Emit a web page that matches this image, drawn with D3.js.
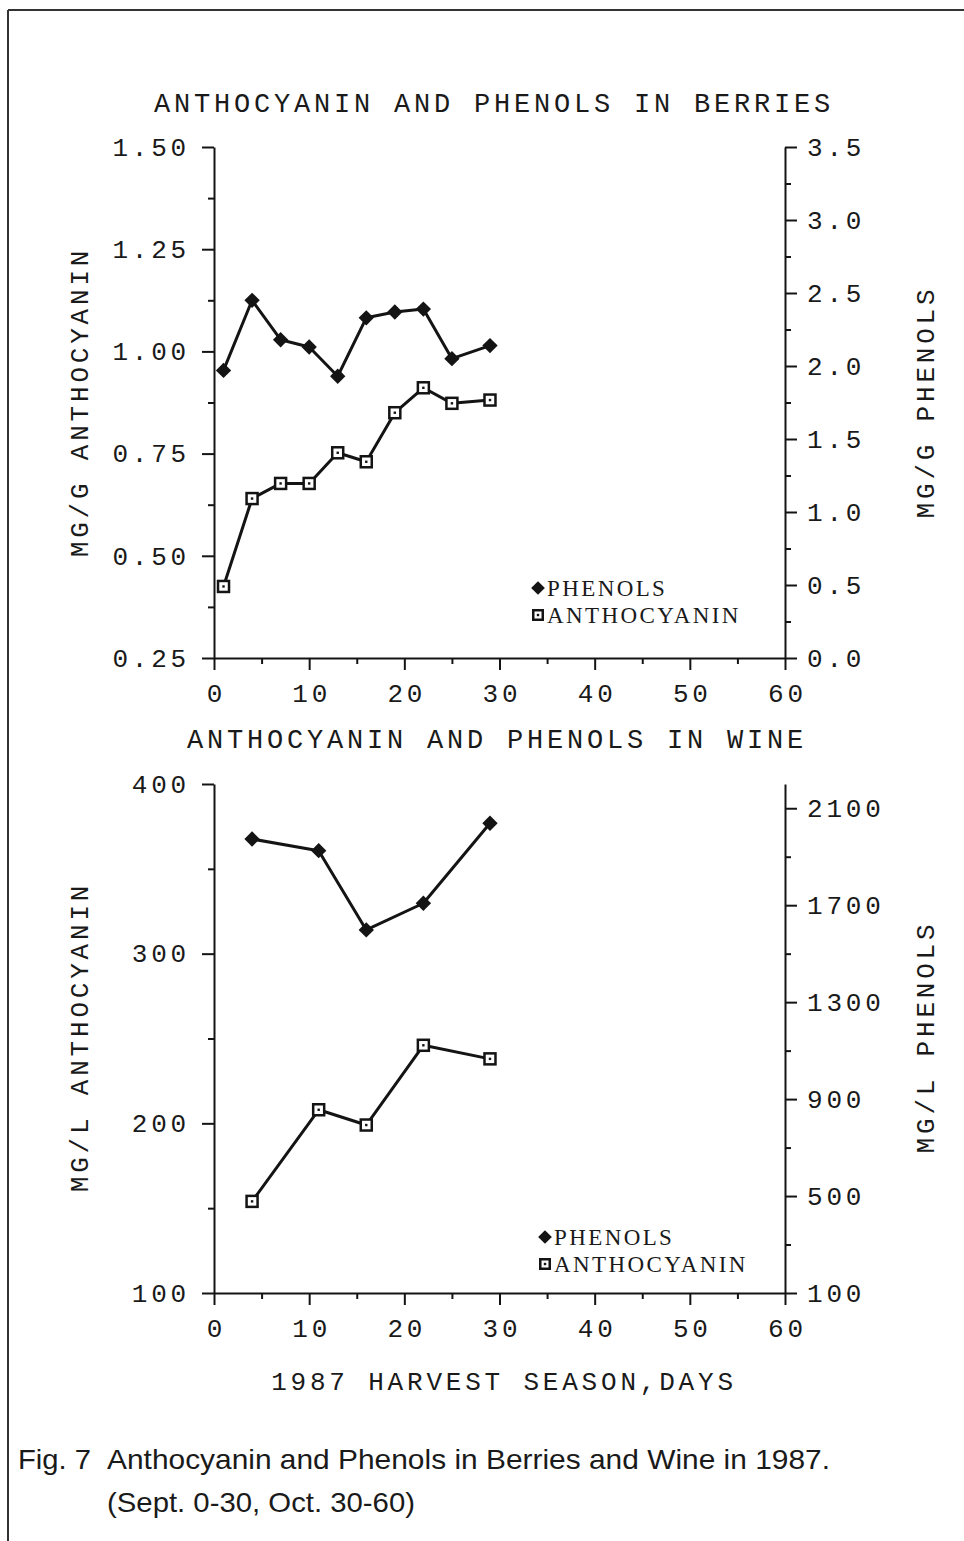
<!DOCTYPE html>
<html>
<head>
<meta charset="utf-8">
<script src="https://cdn.jsdelivr.net/npm/d3@7"></script>
<style>
  body { margin: 0; background: #fff; }
  svg { display: block; }
  .mono { font-family: "Liberation Mono", "DejaVu Sans Mono", monospace; fill: #1a1a1a; }
  .serif { font-family: "Liberation Serif", "DejaVu Serif", serif; fill: #1a1a1a; }
  .sans { font-family: "Liberation Sans", Arial, sans-serif; fill: #1a1a1a; }
</style>
</head>
<body>
<svg id="fig" width="964" height="1541"></svg>
<script>
// berries (top panel)
var berryDays = [1, 4, 7, 10, 13, 16, 19, 22, 25, 29];
var berryPhenols = [1.97, 2.45, 2.18, 2.13, 1.93, 2.33, 2.37, 2.39, 2.05, 2.14];
var berryAntho = [0.425, 0.64, 0.677, 0.677, 0.752, 0.73, 0.85, 0.911, 0.873, 0.881];

// wine (bottom panel)
var wineDays = [4, 11, 16, 22, 29];
var winePhenols = [1973, 1925, 1598, 1708, 2038];
var wineAntho = [154, 208, 199, 246, 238];

// ticks
var dayTicks = [0, 10, 20, 30, 40, 50, 60];
var dayMinor = [5, 15, 25, 35, 45, 55];
var berryAnthoTicks = [0.25, 0.5, 0.75, 1.0, 1.25, 1.5];
var berryAnthoMinor = [0.375, 0.625, 0.875, 1.125, 1.375];
var berryPhenolTicks = [0, 0.5, 1, 1.5, 2, 2.5, 3, 3.5];
var berryPhenolMinor = [0.25, 0.75, 1.25, 1.75, 2.25, 2.75, 3.25];
var wineAnthoTicks = [100, 200, 300, 400];
var wineAnthoMinor = [150, 250, 350];
var winePhenolTicks = [100, 500, 900, 1300, 1700, 2100];
var winePhenolMinor = [300, 700, 1100, 1500, 1900];

var svg = d3.select('#fig');
var ink = '#141414';
var FS = 26, LS = '3.8px';

// page frame (scan edge)
svg.append('line').attr('x1', 8).attr('y1', 10).attr('x2', 964).attr('y2', 10)
  .attr('stroke', '#333').attr('stroke-width', 2);
svg.append('line').attr('x1', 8).attr('y1', 10).attr('x2', 8).attr('y2', 1541)
  .attr('stroke', '#333').attr('stroke-width', 2);

function styleAxis(g) {
  g.selectAll('path, line').attr('stroke', ink).attr('stroke-width', 2);
  g.selectAll('text')
    .attr('class', 'mono')
    .attr('font-size', FS)
    .style('letter-spacing', LS)
    .attr('fill', ink);
  g.attr('font-family', null).attr('font-size', null);
}

function panel(cfg) {
  var x = d3.scaleLinear().domain([0, 60]).range([214, 785]);
  var yL = d3.scaleLinear().domain(cfg.leftDomain).range([cfg.bottom, cfg.top]);
  var yR = d3.scaleLinear().domain(cfg.rightDomain).range([cfg.bottom, cfg.top]);

  var g = svg.append('g');

  // minor ticks
  g.append('g').attr('transform', 'translate(0,' + cfg.bottom + ')')
    .call(d3.axisBottom(x).tickValues(dayMinor).tickSize(6).tickFormat(''))
    .call(function(a) { a.select('.domain').remove(); styleAxis(a); });
  g.append('g').attr('transform', 'translate(214,0)')
    .call(d3.axisLeft(yL).tickValues(cfg.leftMinor).tickSize(6).tickFormat(''))
    .call(function(a) { a.select('.domain').remove(); styleAxis(a); });
  g.append('g').attr('transform', 'translate(785,0)')
    .call(d3.axisRight(yR).tickValues(cfg.rightMinor).tickSize(6).tickFormat(''))
    .call(function(a) { a.select('.domain').remove(); styleAxis(a); });

  // major axes
  var xa = g.append('g').attr('transform', 'translate(0,' + cfg.bottom + ')')
    .call(d3.axisBottom(x).tickValues(dayTicks).tickSize(12).tickSizeOuter(0).tickPadding(14));
  styleAxis(xa);
  xa.selectAll('text').attr('dx', '2px');

  var la = g.append('g').attr('transform', 'translate(214,0)')
    .call(d3.axisLeft(yL).tickValues(cfg.leftTicks).tickSize(12).tickSizeOuter(0)
      .tickPadding(12).tickFormat(cfg.leftFormat));
  styleAxis(la);

  var ra = g.append('g').attr('transform', 'translate(785,0)')
    .call(d3.axisRight(yR).tickValues(cfg.rightTicks).tickSize(12).tickSizeOuter(0)
      .tickPadding(10).tickFormat(cfg.rightFormat));
  styleAxis(ra);

  // axis titles
  g.append('text').attr('class', 'mono')
    .attr('transform', 'translate(88,' + cfg.labelY + ') rotate(-90)')
    .attr('text-anchor', 'middle').attr('font-size', FS).style('letter-spacing', LS)
    .text(cfg.leftLabel);
  g.append('text').attr('class', 'mono')
    .attr('transform', 'translate(934,' + cfg.labelY + ') rotate(-90)')
    .attr('text-anchor', 'middle').attr('font-size', FS).style('letter-spacing', LS)
    .text(cfg.rightLabel);

  // series
  var line = d3.line();
  var phen = cfg.days.map(function(d, i) { return [x(d), yR(cfg.phenols[i])]; });
  var anth = cfg.days.map(function(d, i) { return [x(d), yL(cfg.antho[i])]; });

  g.append('path').attr('d', line(phen)).attr('fill', 'none')
    .attr('stroke', ink).attr('stroke-width', 3).attr('stroke-linejoin', 'round');
  g.append('path').attr('d', line(anth)).attr('fill', 'none')
    .attr('stroke', ink).attr('stroke-width', 3).attr('stroke-linejoin', 'round');

  var diamond = d3.symbol().type(d3.symbolDiamond2).size(150);
  g.selectAll('.ph').data(phen).enter().append('path')
    .attr('class', 'ph')
    .attr('transform', function(p) { return 'translate(' + p[0] + ',' + p[1] + ')'; })
    .attr('d', diamond).attr('fill', ink);

  drawSquares(g, anth, 11);

  // legend
  var lg = g.append('g');
  lg.append('path').attr('transform', 'translate(' + cfg.legX + ',' + cfg.legY + ')')
    .attr('d', d3.symbol().type(d3.symbolDiamond2).size(120)).attr('fill', ink);
  drawSquares(lg, [[cfg.legX, cfg.legY + 27]], 9.5);
  lg.append('text').attr('class', 'serif').attr('x', cfg.legX + 9).attr('y', cfg.legY + 8)
    .attr('font-size', 23).style('letter-spacing', '2.4px').text('PHENOLS');
  lg.append('text').attr('class', 'serif').attr('x', cfg.legX + 9).attr('y', cfg.legY + 35)
    .attr('font-size', 23).style('letter-spacing', '2.4px').text('ANTHOCYANIN');
}

function drawSquares(g, pts, s) {
  var sq = g.selectAll(null).data(pts).enter().append('g')
    .attr('transform', function(p) { return 'translate(' + p[0] + ',' + p[1] + ')'; });
  sq.append('rect').attr('x', -s / 2).attr('y', -s / 2).attr('width', s).attr('height', s)
    .attr('fill', '#fff').attr('stroke', ink).attr('stroke-width', 2.5);
  sq.append('rect').attr('x', -1.2).attr('y', -1.2).attr('width', 2.4).attr('height', 2.4)
    .attr('fill', ink);
}

// titles
svg.append('text').attr('class', 'mono').attr('x', 494).attr('y', 112)
  .attr('text-anchor', 'middle').attr('font-size', 27).style('letter-spacing', '3.8px')
  .text('ANTHOCYANIN AND PHENOLS IN BERRIES');

panel({
  top: 147, bottom: 658,
  leftDomain: [0.25, 1.5], rightDomain: [0, 3.5],
  leftTicks: berryAnthoTicks, leftMinor: berryAnthoMinor,
  rightTicks: berryPhenolTicks, rightMinor: berryPhenolMinor,
  leftFormat: d3.format('.2f'), rightFormat: d3.format('.1f'),
  leftLabel: 'MG/G ANTHOCYANIN', rightLabel: 'MG/G PHENOLS', labelY: 402,
  days: berryDays, phenols: berryPhenols, antho: berryAntho,
  legX: 538, legY: 588
});

svg.append('text').attr('class', 'mono').attr('x', 497).attr('y', 748)
  .attr('text-anchor', 'middle').attr('font-size', 27).style('letter-spacing', '3.8px')
  .text('ANTHOCYANIN AND PHENOLS IN WINE');

panel({
  top: 784, bottom: 1293,
  leftDomain: [100, 400], rightDomain: [100, 2200],
  leftTicks: wineAnthoTicks, leftMinor: wineAnthoMinor,
  rightTicks: winePhenolTicks, rightMinor: winePhenolMinor,
  leftFormat: d3.format('d'), rightFormat: d3.format('d'),
  leftLabel: 'MG/L ANTHOCYANIN', rightLabel: 'MG/L PHENOLS', labelY: 1037,
  days: wineDays, phenols: winePhenols, antho: wineAntho,
  legX: 545, legY: 1237
});

svg.append('text').attr('class', 'mono').attr('x', 504).attr('y', 1390)
  .attr('text-anchor', 'middle').attr('font-size', FS).style('letter-spacing', LS)
  .text('1987 HARVEST SEASON,DAYS');

// caption
svg.append('text').attr('class', 'sans').attr('x', 18).attr('y', 1469)
  .attr('font-size', 28).attr('textLength', 73).attr('lengthAdjust', 'spacingAndGlyphs')
  .text('Fig. 7');
svg.append('text').attr('class', 'sans').attr('x', 107).attr('y', 1469)
  .attr('font-size', 28).attr('textLength', 723).attr('lengthAdjust', 'spacingAndGlyphs')
  .text('Anthocyanin and Phenols in Berries and Wine in 1987.');
svg.append('text').attr('class', 'sans').attr('x', 107).attr('y', 1512)
  .attr('font-size', 28).attr('textLength', 308).attr('lengthAdjust', 'spacingAndGlyphs')
  .text('(Sept. 0-30, Oct. 30-60)');
</script>
</body>
</html>
